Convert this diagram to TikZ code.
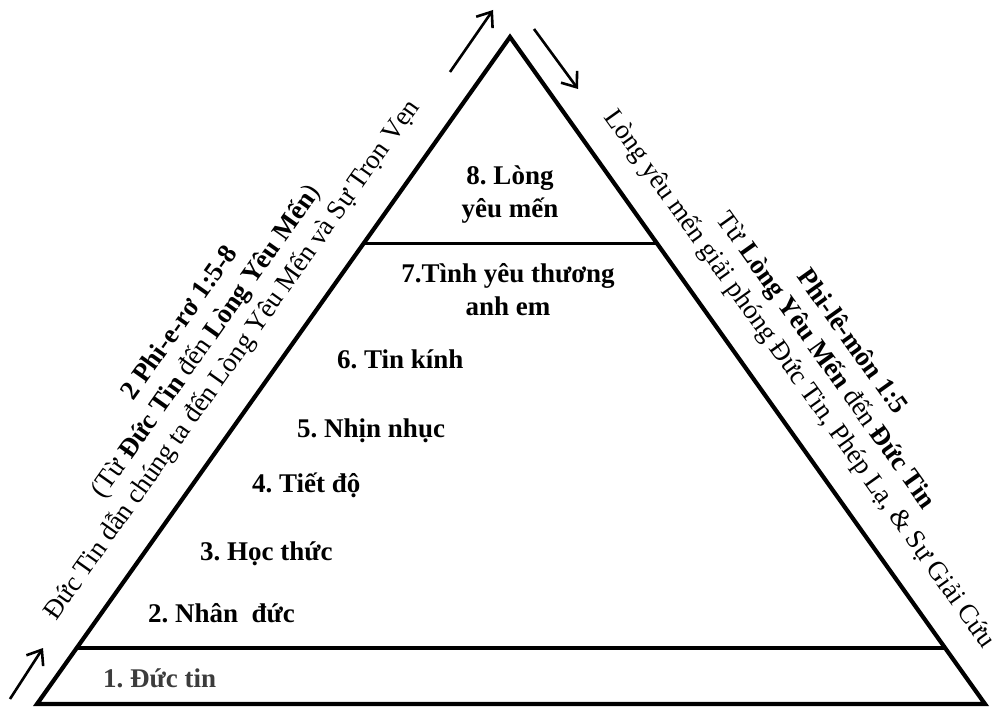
\documentclass[tikz,border=0pt]{standalone}
\usepackage{fontspec}
\setmainfont{Liberation Serif}
\usetikzlibrary{calc,arrows.meta}
\definecolor{grayfirst}{HTML}{3C3C3C}
\frenchspacing
\begin{document}
\begin{tikzpicture}[x=1pt,y=-1pt,
  edge/.style={line width=4.2pt,line join=miter},
  sep/.style={line width=3.2pt},
  arr/.style={line width=2.6pt,-{Straight Barb[length=13pt,width=20pt]}},
  lvl/.style={font=\fontsize{27}{33}\selectfont\bfseries,inner sep=0pt},
  side/.style={font=\fontsize{27}{32}\selectfont,align=center,inner sep=0pt}]
\useasboundingbox (0,0) rectangle (995,708);
\coordinate (A) at (510,37);
\coordinate (B) at (37,704);
\coordinate (C) at (985,704);
\draw[edge] (A) -- (B) -- (C) -- cycle;
\coordinate (L1) at ($(B)!0.084!(A)$);
\coordinate (R1) at ($(C)!0.084!(A)$);
\coordinate (L2) at ($(B)!0.69!(A)$);
\coordinate (R2) at ($(C)!0.69!(A)$);
\draw[sep] (L1) -- (R1);
\draw[sep] (L2) -- (R2);
% arrows
\coordinate (a1s) at (450,72);
\coordinate (a1e) at (493,10);
\coordinate (a2s) at (534,29);
\coordinate (a2e) at (578,89);
\coordinate (a3s) at (10,699);
\coordinate (a3e) at (43,648);
\draw[arr] (a1s) -- (a1e);
\draw[arr] (a2s) -- (a2e);
\draw[arr] (a3s) -- (a3e);
% levels
\node[lvl,align=center] (n8) at (510,195) {8. Lòng\\yêu mến};
\node[lvl,align=center] (n7) at (508,290) {7.Tình yêu thương\\anh em};
\node[lvl,anchor=base west] (n6) at (337,368) {6. Tin kính};
\node[lvl,anchor=base west] (n5) at (297,437) {5. Nhịn nhục};
\node[lvl,anchor=base west] (n4) at (252,492) {4. Tiết độ};
\node[lvl,anchor=base west] (n3) at (200,560) {3. Học thức};
\node[lvl,anchor=base west] (n2) at (148,622) {2. Nhân\ \ đức};
\node[lvl,anchor=base west,text=grayfirst] (n1) at (103,687) {1. Đức tin};
% side texts
\node[side,rotate=54.7] (leftnote) at (207,342)
  {\textbf{2 Phi-e-rơ 1:5-8}\\(Từ \textbf{Đức Tin} đến \textbf{Lòng Yêu Mến})\\Đức Tin dẫn chúng ta đến Lòng Yêu Mến và Sự Trọn Vẹn};
\node[side,rotate=-54.5] (rightnote) at (825,361)
  {\textbf{Phi-lê-môn 1:5}\\Từ \textbf{Lòng Yêu Mến} đến \textbf{Đức Tin}\\Lòng yêu mến giải phóng Đức Tin, Phép Lạ, \& Sự Giải Cứu};
\end{tikzpicture}
\end{document}
